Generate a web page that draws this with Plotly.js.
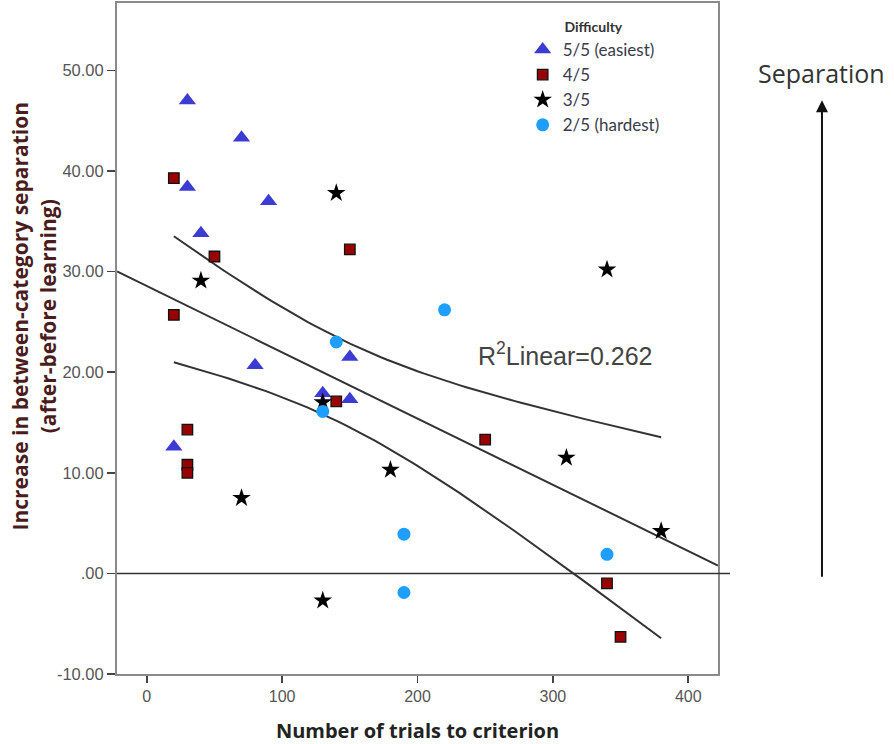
<!DOCTYPE html>
<html>
<head>
<meta charset="utf-8">
<script src="https://cdn.plot.ly/plotly-3.0.1.min.js"></script>
<style>html,body{margin:0;padding:0;background:#fff;}#chart{width:894px;height:744px;}</style>
</head>
<body>
<div id="chart"></div>
<script>
// Difficulty 5/5 (easiest) - triangles
var d5X = [30, 70, 30, 90, 40, 150, 80, 130, 150, 20];
var d5Y = [47.0, 43.3, 38.4, 37.0, 33.8, 21.5, 20.7, 17.9, 17.3, 12.6];
// Difficulty 4/5 - squares
var d4X = [20, 50, 150, 20, 30, 30, 30, 140, 250, 340, 350];
var d4Y = [39.3, 31.5, 32.2, 25.7, 14.3, 10.8, 10.0, 17.1, 13.3, -1.0, -6.3];
// Difficulty 3/5 - stars
var d3X = [140, 40, 130, 70, 180, 130, 340, 310, 380];
var d3Y = [37.8, 29.1, 17.0, 7.5, 10.3, -2.7, 30.2, 11.5, 4.2];
// Difficulty 2/5 (hardest) - circles
var d2X = [140, 130, 190, 190, 220, 340];
var d2Y = [23.0, 16.1, 3.9, -1.9, 26.2, 1.9];

var seriesNames = ["5/5 (easiest)", "4/5", "3/5", "2/5 (hardest)"];
var yTickVals = [-10, 0, 10, 20, 30, 40, 50];
var yTickText = ["-10.00", ".00", "10.00", "20.00", "30.00", "40.00", "50.00"];
var xTickVals = [0, 100, 200, 300, 400];
var r2Label = "R<sup>2</sup>Linear=0.262";
var tCrit = 2.032; // t(0.975, df = n-2)

// Linear regression on all points
var allX = d5X.concat(d4X, d3X, d2X);
var allY = d5Y.concat(d4Y, d3Y, d2Y);
var n = allX.length;
var mx = allX.reduce(function(a,b){return a+b;},0)/n;
var my = allY.reduce(function(a,b){return a+b;},0)/n;
var sxx=0, sxy=0;
for (var i=0;i<n;i++){ sxx += (allX[i]-mx)*(allX[i]-mx); sxy += (allX[i]-mx)*(allY[i]-my); }
var slope = sxy/sxx, icpt = my - slope*mx;
var sse = 0;
for (var i=0;i<n;i++){ var r = allY[i]-(icpt+slope*allX[i]); sse += r*r; }
var s = Math.sqrt(sse/(n-2));
var xr = [-22, 422];
var fitX = xr, fitY = xr.map(function(x){return icpt+slope*x;});
var xmin = Math.min.apply(null, allX), xmax = Math.max.apply(null, allX);
var bx = [], bu = [], bl = [];
for (var k=0;k<=80;k++){
  var x = xmin + (xmax-xmin)*k/80;
  var h = tCrit*s*Math.sqrt(1/n + (x-mx)*(x-mx)/sxx);
  bx.push(x); bu.push(icpt+slope*x+h); bl.push(icpt+slope*x-h);
}

var lineStyle = {color:'#333', width:2};
var traces = [
  {x:fitX, y:fitY, mode:'lines', line:lineStyle, showlegend:false, hoverinfo:'skip'},
  {x:bx, y:bu, mode:'lines', line:lineStyle, showlegend:false, hoverinfo:'skip'},
  {x:bx, y:bl, mode:'lines', line:lineStyle, showlegend:false, hoverinfo:'skip'},
  {x:d5X, y:d5Y, mode:'markers', name:seriesNames[0], legendgroup:'a',
   marker:{symbol:'triangle-up', size:15, color:'#3c3cd2', line:{width:0}}},
  {x:d4X, y:d4Y, mode:'markers', name:seriesNames[1], legendgroup:'b',
   marker:{symbol:'square', size:10.5, color:'#990000', line:{color:'#111', width:1.3}}},
  {x:d3X, y:d3Y, mode:'markers', name:seriesNames[2], legendgroup:'c',
   marker:{symbol:'star', size:14, color:'#000', line:{width:0}}},
  {x:d2X, y:d2Y, mode:'markers', name:seriesNames[3], legendgroup:'d',
   marker:{symbol:'circle', size:13, color:'#1e9fff', line:{width:0}}}
];

var layout = {
  width:894, height:744,
  margin:{l:117, r:176, t:3, b:70},
  paper_bgcolor:'#fff', plot_bgcolor:'#fff',
  font:{family:'Liberation Sans, Arial, sans-serif', color:'#444'},
  xaxis:{range:xr, tickvals:xTickVals, ticks:'outside', ticklen:7, tickwidth:1.5, tickcolor:'#444',
         showgrid:false, zeroline:false, showline:true, mirror:true, linecolor:'#8a8a8a', linewidth:2,
         tickfont:{size:16, color:'#555'},
         title:{text:'Number of trials to criterion', font:{family:'Open Sans, sans-serif', size:20, color:'#222', weight:'bold'}, standoff:24}},
  yaxis:{range:[-10, 56.7], tickvals:yTickVals, ticktext:yTickText, ticks:'outside', ticklen:8, tickwidth:1.5, tickcolor:'#444',
         showgrid:false, zeroline:false, showline:true, mirror:true, linecolor:'#8a8a8a', linewidth:2,
         tickfont:{size:16.5, color:'#555'}},
  legend:{x:0.675, y:0.984, xanchor:'left', yanchor:'top', bgcolor:'rgba(0,0,0,0)', tracegroupgap:0,
          font:{family:'Lato, sans-serif', size:17, color:'#3a3a4a'},
          title:{text:'Difficulty', side:'top center', font:{family:'Lato, sans-serif', size:14, color:'#333', weight:'bold'}}},
  shapes:[{type:'line', xref:'paper', yref:'y', x0:0, x1:1.02, y0:0, y1:0, line:{color:'#333', width:1.5}}],
  annotations:[
    {x:-0.139, y:0.5335, xref:'paper', yref:'paper', xanchor:'center', yanchor:'middle', textangle:-90, showarrow:false,
     text:'Increase in between-category separation<br>(after-before learning)',
     font:{family:'Open Sans, sans-serif', size:21, color:'#4a1c1c', weight:'bold'}},
    {x:309, y:21.8, xref:'x', yref:'y', xanchor:'center', text:r2Label, showarrow:false, font:{family:'Liberation Sans, Arial, sans-serif', size:25, color:'#444'}},
    {x:1.173, y:0.896, xref:'paper', yref:'paper', text:'Separation', showarrow:false, xanchor:'center', yanchor:'middle',
     font:{family:'Open Sans, sans-serif', size:25, color:'#333'}},
    {x:1.173, y:0.855, xref:'paper', yref:'paper', text:'', showarrow:true, ax:0, ay:478, arrowhead:2, arrowsize:1.2, arrowwidth:2, arrowcolor:'#111'}
  ]
};

Plotly.newPlot('chart', traces, layout, {displayModeBar:false, staticPlot:true});
</script>
</body>
</html>
